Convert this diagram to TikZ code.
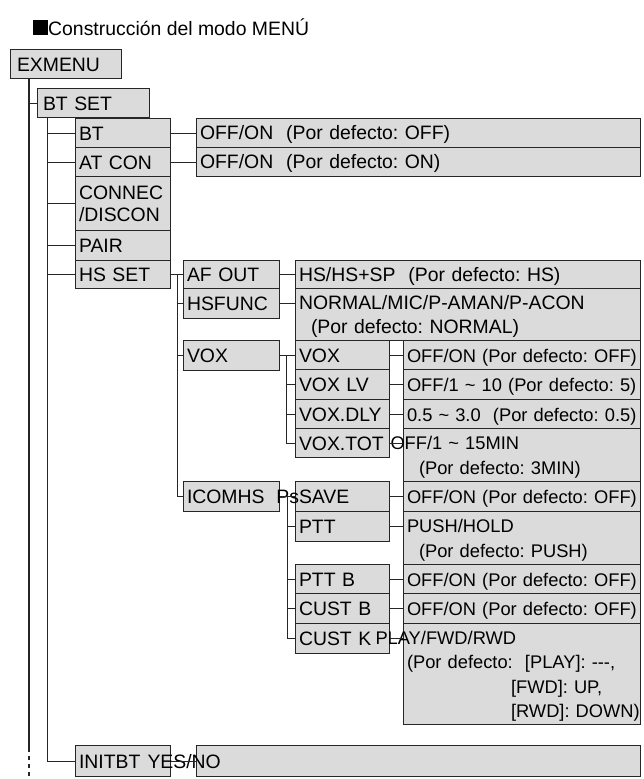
\documentclass[tikz,border=0pt]{standalone}
\usepackage{fontspec}
\setmainfont{Liberation Sans}
\usepackage{tikz}
\usetikzlibrary{calc}
\definecolor{boxgray}{HTML}{DBDBDB}
\definecolor{lineblack}{HTML}{262626}
\newcommand\bigfont{\fontsize{19.4}{24.5}\selectfont\frenchspacing}
\newcommand\smallfont{\fontsize{18.3}{24.5}\selectfont\frenchspacing}
\newcommand\boxstrut{\rule[-4pt]{0pt}{22pt}}
\tikzset{
  menu/.style={draw=lineblack, fill=boxgray, line width=1pt, anchor=north west,
    inner xsep=3.5pt, inner ysep=0pt, align=left, font=\bigfont,
    execute at begin node=\boxstrut, execute at end node=\boxstrut},
  lvtop/.style={text width=104pt},
  lvone/.style={text width=105pt},
  lvtwo/.style={text width=88pt},
  lvtwoval/.style={text width=437pt},
  lvthree/.style={text width=89pt},
  lvthreeval/.style={text width=338pt},
  lvfour/.style={text width=87pt},
  lvfourval/.style={text width=230pt, font=\smallfont},
  link/.style={draw=lineblack, line width=1pt},
  trunkline/.style={draw=lineblack, line width=1.7pt},
}

\begin{document}
\begin{tikzpicture}[x=1pt, y=-1pt]
    \useasboundingbox (0,0) rectangle (643,779);
    \node[anchor=base west, inner sep=0pt, font=\bigfont] (title) at (33,35) {\rule{15pt}{15pt}Construcción del modo MENÚ};

    \node[menu, lvtop, minimum height=29pt] (exmenu) at (10,49) {\hspace*{3pt}EXMENU};
    \node[menu, lvone, minimum height=29pt] (btset) at (37,88) {\hspace*{2pt}BT SET};

    \node[menu, lvtwo, minimum height=29pt] (bt) at (75,118) {BT};
    \node[menu, lvtwo, minimum height=29pt] (atcon) at (75,147) {AT CON};
    \node[menu, lvtwo, minimum height=54pt] (connec) at (75,176) {CONNEC\\[-2.5pt]/DISCON};
    \node[menu, lvtwo, minimum height=30pt] (pair) at (75,230) {PAIR};
    \node[menu, lvtwo, minimum height=28pt] (hsset) at (75,260) {HS SET};
    \node[menu, lvtwo, minimum height=31pt] (initbt) at (75,745) {INITBT};

    \node[menu, lvtwoval, minimum height=29pt] (btval) at (196,118) {OFF/ON\ \ (Por defecto: OFF)};
    \node[menu, lvtwoval, minimum height=29pt] (atconval) at (196,147) {OFF/ON\ \ (Por defecto: ON)};
    \node[menu, lvtwoval, minimum height=31pt] (initbtval) at (196,745) {\hspace*{-52.5pt}YES/NO};

    \node[menu, lvthree, minimum height=28pt] (afout) at (183,260) {AF OUT};
    \node[menu, lvthree, minimum height=30pt] (hsfunc) at (183,288) {HSFUNC};
    \node[menu, lvthree, minimum height=30pt] (vox) at (183,340) {VOX};
    \node[menu, lvthree, minimum height=30pt] (icomhs) at (183,481) {ICOMHS};

    \node[menu, lvthreeval, minimum height=28pt] (afoutval) at (295,260) {HS/HS+SP\ \ (Por defecto: HS)};
    \node[menu, lvthreeval, minimum height=52pt] (hsfuncval) at (295,288) {NORMAL/MIC/P-AMAN/P-ACON\\\hspace*{12pt}(Por defecto: NORMAL)};

    \node[menu, lvfour, minimum height=29pt] (voxon) at (295,340) {VOX};
    \node[menu, lvfour, minimum height=30pt] (voxlv) at (295,369) {VOX LV};
    \node[menu, lvfour, minimum height=29pt] (voxdly) at (295,399) {VOX.DLY};
    \node[menu, lvfour, minimum height=29pt] (voxtot) at (295,428) {VOX.TOT};
    \node[menu, lvfour, minimum height=30pt] (psave) at (295,481) {\llap{Ps}SAVE};
    \node[menu, lvfour, minimum height=30pt] (ptt) at (295,511) {PTT};
    \node[menu, lvfour, minimum height=29pt] (pttb) at (295,564) {PTT B};
    \node[menu, lvfour, minimum height=30pt] (custb) at (295,593) {CUST B};
    \node[menu, lvfour, minimum height=30pt] (custk) at (295,623) {CUST K};

    \node[menu, lvfourval, minimum height=29pt] (voxonval) at (403,340) {OFF/ON~(Por~defecto:~OFF)};
    \node[menu, lvfourval, minimum height=30pt] (voxlvval) at (403,369) {OFF/1~\textasciitilde{}~10~(Por~defecto:~5)};
    \node[menu, lvfourval, minimum height=29pt] (voxdlyval) at (403,399) {0.5~\textasciitilde{}~3.0~~(Por~defecto:~0.5)};
    \node[menu, lvfourval, minimum height=53pt] (voxtotval) at (403,428) {\hspace*{-16.5pt}OFF/1 \textasciitilde{} 15MIN\\\hspace*{12pt}(Por defecto: 3MIN)};
    \node[menu, lvfourval, minimum height=30pt] (psaveval) at (403,481) {OFF/ON~(Por~defecto:~OFF)};
    \node[menu, lvfourval, minimum height=53pt] (pttval) at (403,511) {PUSH/HOLD\\\hspace*{12pt}(Por defecto: PUSH)};
    \node[menu, lvfourval, minimum height=29pt] (pttbval) at (403,564) {OFF/ON~(Por~defecto:~OFF)};
    \node[menu, lvfourval, minimum height=30pt] (custbval) at (403,593) {OFF/ON~(Por~defecto:~OFF)};
    \node[menu, lvfourval, minimum height=101pt] (custkval) at (403,623) {\hspace*{-31.5pt}PLAY/FWD/RWD\\(Por defecto:\ \ [PLAY]: {-}{-}{-},\\\hspace*{104pt}[FWD]:~UP,\\\hspace*{104pt}[RWD]:~DOWN)};

    \coordinate (trunk) at (29,78);
    \coordinate (trunkend) at (29,748);
    \coordinate (trunkdots) at (29,779);
    \coordinate (spine) at (47,117);
    \coordinate (hsspine) at (177,0);
    \coordinate (voxspine) at (286,0);
    \coordinate (icomspine) at (287,0);

    \draw[trunkline] (trunk) -- (trunkend);
    \draw[trunkline, dash pattern=on 4pt off 4pt] (trunkend) -- (trunkdots);
    \draw[link] (trunk |- btset.west) -- (btset.west);
    \draw[link] (spine) |- (initbt.west);
    \foreach \n in {bt,atcon,connec,pair} \draw[link] (spine |- \n.west) -- (\n.west);
    \draw[link] (spine |- hsset.west) -- (hsset.west);

    \draw[link] (bt.east) -- (btval.west);
    \draw[link] (atcon.east) -- (atconval.west);
    \draw[link] (initbt.east) -- (initbtval.west);

    \draw[link] (hsset.east) -- (afout.west);
    \draw[link] (hsspine |- hsset.east) |- (icomhs.west);
    \foreach \n in {hsfunc,vox} \draw[link] (hsspine |- \n.west) -- (\n.west);

    \draw[link] (afout.east) -- (afoutval.west);
    \draw[link] (hsfunc.east) -- (hsfunc.east -| hsfuncval.west);

    \draw[link] (vox.east) -- (vox.east -| voxon.west);
    \draw[link] (voxspine |- vox.east) |- (voxtot.west);
    \foreach \n in {voxlv,voxdly} \draw[link] (voxspine |- \n.west) -- (\n.west);

    \draw[link] (icomhs.east) -- (icomhs.east -| psave.west);
    \draw[link] (icomspine |- icomhs.east) |- (custk.west);
    \foreach \n in {ptt,pttb,custb} \draw[link] (icomspine |- \n.west) -- (\n.west);

    \foreach \n in {voxon,voxlv,voxdly,voxtot,psave,ptt,pttb,custb,custk}
      \draw[link] (\n.east) -- (\n.east -| \n val.west);
  \end{tikzpicture}
\end{document}
